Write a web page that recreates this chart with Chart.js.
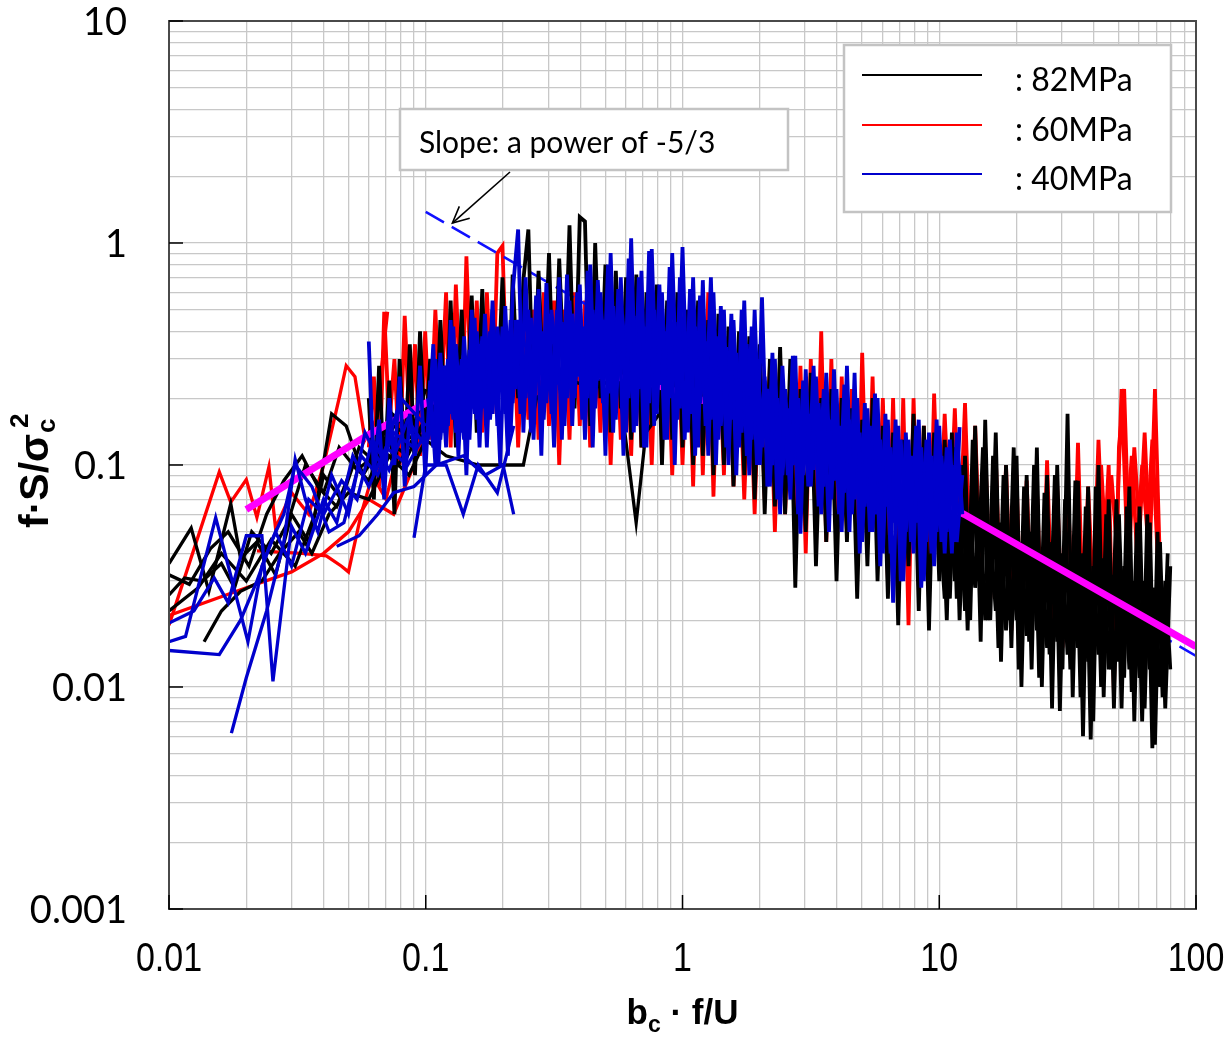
<!DOCTYPE html>
<html><head><meta charset="utf-8">
<script src="https://cdn.jsdelivr.net/npm/chart.js@4.4.1/dist/chart.umd.min.js"></script>
<style>html,body{margin:0;padding:0;background:#fff;}canvas{display:block;}</style>
</head><body>
<canvas id="c" width="1229" height="1037"></canvas>
<script>
// ---------- tick labels ----------
const xTickLabels = ['0.01', '0.1', '1', '10', '100'];
const yTickLabels = ['0.001', '0.01', '0.1', '1', '10'];
const gridMultipliers = [1, 2, 3, 4, 5, 6, 7, 8, 9];
const seriesNames = ['82MPa', '60MPa', '40MPa'];
const annotationText = 'Slope: a power of -5/3';

// ---------- dense spectra, grid A ----------
const freqA = [0.06,0.0628,0.0658,0.0689,0.0721,0.0755,0.0791,0.0828,0.0867,0.0908,0.095,0.0995,
 0.104,0.109,0.114,0.12,0.125,0.131,0.138,0.144,0.151,0.158,
 0.166,0.173,0.182,0.19,0.199,0.209,0.218,0.229,0.24,0.251,
 0.263,0.275,0.288,0.302,0.316,0.331,0.347,0.363,0.38,0.398,
 0.417,0.437,0.457,0.479,0.501,0.525,0.55,0.575,0.603,0.631,
 0.661,0.692,0.724,0.759,0.794,0.832,0.871,0.912,0.955,
 1.0,1.05,1.1,1.15,1.2,1.26,1.32,1.38,1.45,1.51,
 1.58,1.66,1.74,1.82,1.91,2.0,2.09,2.19,2.29,2.4,
 2.51,2.63,2.75,2.88,3.02,3.16,3.31,3.47,3.63,3.8,
 3.98,4.17,4.37,4.57,4.79,5.01,5.25,5.5,5.75,6.03,
 6.31,6.61,6.92,7.24,7.59,7.94,8.32,8.71,9.12,9.55,
 10.0,10.5,11.0,11.5,12.0,12.6,13.2,13.8,14.5,15.1,
 15.8,16.6,17.4,18.2,19.1,20.0,20.9,21.9,22.9,24.0,
 25.1,26.3,27.5,28.8,30.2,31.6,33.1,34.7,36.3,38.0,
 39.8,41.7,43.7,45.7,47.9,50.1,52.5,55.0,57.5,60.3,
 63.1,66.1,69.2,72.4,75.9,79.4];

const black82A = [0.2,0.07,0.28,0.09,0.24,0.06,0.3,0.1,0.35,0.09,0.4,0.12,
 0.3,0.11,0.45,0.13,0.55,0.12,0.5,0.16,0.58,0.14,
 0.62,0.15,0.5,0.18,0.7,0.13,0.72,0.2,0.68,1.15,
 0.16,0.75,0.2,0.9,0.17,0.85,0.22,1.2,0.18,1.31,
 1.25,0.15,1.0,0.2,0.8,0.14,0.75,0.18,0.7,0.13,
 0.72,0.12,0.6,0.15,0.65,0.1,0.55,0.13,0.6,
 0.12,0.5,0.1,0.55,0.11,0.45,0.09,0.48,0.1,0.42,
 0.08,0.4,0.09,0.38,0.07,0.35,0.06,0.3,0.065,0.34,
 0.06,0.3,0.028,0.22,0.05,0.26,0.035,0.2,0.045,0.22,
 0.03,0.2,0.045,0.18,0.025,0.16,0.035,0.2,0.03,0.15,
 0.025,0.14,0.019,0.13,0.035,0.17,0.022,0.15,0.018,0.14,
 0.03,0.13,0.025,0.12,0.02,0.11,0.02,0.15,0.016,0.16,
 0.02,0.14,0.013,0.1,0.015,0.11,0.01,0.09,0.012,0.12,
 0.01,0.09,0.008,0.1,0.012,0.17,0.009,0.085,0.006,0.08,
 0.007,0.1,0.009,0.07,0.008,0.06,0.011,0.08,0.007,0.065,
 0.008,0.055,0.0055,0.045,0.008,0.035];

const black82CStart = 111; // first value sits at freqA[111]
const black82C = [0.06,0.025,0.07,0.03,0.065,0.022,0.06,0.028,0.055,0.02,
 0.05,0.022,0.055,0.018,0.05,0.02,0.045,0.017,0.05,0.018,
 0.04,0.015,0.045,0.016,0.04,0.014,0.038,0.015,0.04,0.013,
 0.035,0.014,0.038,0.012,0.032,0.013,0.035,0.012,0.03,0.011,
 0.03,0.012,0.028,0.01,0.03,0.012];

const red60A = [0.12,0.25,0.08,0.49,0.15,0.3,0.1,0.47,0.14,0.35,0.11,0.4,
 0.13,0.5,0.16,0.6,0.12,0.65,0.15,0.87,0.18,0.55,
 0.14,0.6,0.17,0.9,0.97,0.15,0.55,0.12,0.45,0.16,
 0.5,0.13,0.6,0.15,0.55,0.1,0.5,0.13,0.6,0.15,
 0.55,0.12,0.5,0.14,0.6,0.1,0.45,0.13,0.55,0.11,
 0.5,0.12,0.45,0.1,0.5,0.13,0.42,0.09,0.48,
 0.1,0.45,0.08,0.5,0.09,0.6,0.072,0.4,0.09,0.38,
 0.08,0.35,0.07,0.3,0.06,0.32,0.07,0.28,0.05,0.3,
 0.06,0.25,0.05,0.28,0.04,0.3,0.05,0.4,0.045,0.3,
 0.04,0.25,0.05,0.22,0.035,0.32,0.045,0.25,0.04,0.2,
 0.03,0.2,0.025,0.2,0.019,0.2,0.03,0.15,0.025,0.21,
 0.04,0.17,0.05,0.18,0.045,0.19,0.035,0.15,0.03,0.12,
 0.025,0.11,0.02,0.1,0.018,0.09,0.015,0.085,0.02,0.08,
 0.018,0.105,0.02,0.08,0.015,0.09,0.018,0.126,0.02,0.08,
 0.025,0.13,0.035,0.1,0.0093,0.12,0.22,0.04,0.12,0.05,
 0.14,0.04,0.22,0.035];

const blue40A = [0.36,0.09,0.16,0.07,0.2,0.1,0.25,0.08,0.17,0.11,0.28,0.09,
 0.24,0.1,0.32,0.12,0.45,0.14,0.3,0.09,0.5,0.16,
 0.38,0.12,0.55,0.15,0.42,0.11,0.6,1.15,0.14,0.5,
 0.13,0.62,0.16,0.48,0.12,0.7,0.15,0.55,0.2,0.65,
 0.13,0.8,0.18,0.6,0.11,0.9,0.16,0.7,0.14,1.05,
 0.15,0.75,0.12,0.94,0.17,0.6,0.13,0.9,0.16,
 0.96,0.14,0.7,0.12,0.68,0.11,0.6,0.13,0.5,0.1,
 0.45,0.12,0.55,0.09,0.5,0.1,0.25,0.08,0.3,0.06,
 0.22,0.07,0.31,0.049,0.27,0.08,0.25,0.06,0.26,0.07,
 0.22,0.05,0.28,0.06,0.2,0.045,0.18,0.05,0.2,0.04,
 0.16,0.024,0.15,0.03,0.13,0.04,0.16,0.03,0.14,0.035,
 0.15,0.04,0.13,0.045,0.148];

const blue40CStart = 12; // first value sits at freqA[12]
const blue40C = [0.15,0.3,0.13,0.28,0.17,0.35,0.14,0.3,0.18,0.4,
 0.2,0.35,0.17,0.42,0.22,0.38,0.19,0.45,0.24,0.4,
 0.22,0.48,0.25,0.42,0.2,0.5,0.26,0.4,0.21,0.52,
 0.24,0.45,0.2,0.55,0.27,0.42,0.22,0.5,0.25,0.46,
 0.21,0.48,0.24,0.4,0.2,0.52,0.23,0.44,0.19,
 0.42,0.2,0.45,0.18,0.38,0.21,0.4,0.17,0.36,0.19,
 0.34,0.16,0.37,0.15,0.32,0.14,0.24,0.12,0.22,0.11,
 0.2,0.1,0.19,0.09,0.2,0.1,0.17,0.085,0.18,0.09,
 0.16,0.08,0.15,0.07,0.14,0.075,0.13,0.065,0.12,0.07,
 0.11,0.055,0.1,0.05,0.11,0.06,0.095,0.05,0.1,0.055,
 0.1,0.05,0.09,0.055,0.1];

// ---------- dense spectra, grid B ----------
const freqB = [0.102,0.107,0.112,0.117,0.122,0.128,0.134,0.141,0.148,0.155,
 0.162,0.17,0.178,0.186,0.195,0.204,0.214,0.224,0.234,0.245,
 0.257,0.269,0.282,0.295,0.309,0.324,0.339,0.355,0.372,0.389,
 0.407,0.427,0.447,0.468,0.49,0.513,0.537,0.562,0.589,0.617,
 0.646,0.676,0.708,0.741,0.776,0.813,0.851,0.891,0.933,0.977,
 1.02,1.07,1.12,1.17,1.23,1.29,1.35,1.41,1.48,1.55,
 1.62,1.7,1.78,1.86,1.95,2.04,2.14,2.24,2.34,2.45,
 2.57,2.69,2.82,2.95,3.09,3.24,3.39,3.55,3.72,3.89,
 4.07,4.27,4.47,4.68,4.9,5.13,5.37,5.62,5.89,6.17,
 6.46,6.76,7.08,7.41,7.76,8.13,8.51,8.91,9.33,9.77,
 10.2,10.7,11.2,11.7,12.3,12.9,13.5,14.1,14.8,15.5,
 16.2,17.0,17.8,18.6,19.5,20.4,21.4,22.4,23.4,24.5,
 25.7,26.9,28.2,29.5,30.9,32.4,33.9,35.5,37.2,38.9,
 40.7,42.7,44.7,46.8,49.0,51.3,53.7,56.2,58.9,61.7,
 64.6,67.6,70.8,74.1,77.6];

const blue40B = [0.13,0.35,0.1,0.28,0.15,0.42,0.11,0.38,0.13,0.46,
 0.12,0.48,0.16,0.36,0.1,0.52,0.14,0.45,0.17,0.7,
 0.14,0.58,0.11,0.66,0.17,0.5,0.13,0.72,0.15,0.6,
 0.16,0.75,0.12,0.68,0.19,0.8,0.14,0.62,0.11,0.85,
 0.14,0.7,0.12,0.92,0.15,0.65,0.13,0.78,0.1,0.7,
 0.13,0.62,0.11,0.58,0.15,0.7,0.1,0.52,0.12,0.48,
 0.09,0.5,0.11,0.42,0.1,0.57,0.08,0.32,0.07,0.28,
 0.09,0.31,0.06,0.24,0.08,0.28,0.065,0.22,0.05,0.27,
 0.06,0.23,0.05,0.26,0.04,0.19,0.05,0.21,0.035,0.17,
 0.04,0.16,0.03,0.14,0.045,0.15,0.028,0.13,0.04,0.16,
 0.045,0.12,0.04,0.14,0.06];

const blue40D = [0.2,0.12,0.26,0.14,0.3,0.16,0.28,0.13,0.33,0.17,
 0.35,0.18,0.4,0.2,0.36,0.17,0.45,0.22,0.38,0.2,
 0.46,0.24,0.4,0.19,0.5,0.23,0.44,0.2,0.48,0.25,
 0.42,0.2,0.5,0.24,0.45,0.21,0.52,0.26,0.4,0.2,
 0.47,0.22,0.42,0.19,0.5,0.23,0.4,0.2,0.44,0.18,
 0.4,0.17,0.42,0.19,0.36,0.16,0.38,0.15,0.34,0.16,
 0.32,0.14,0.35,0.13,0.3,0.12,0.22,0.1,0.2,0.09,
 0.18,0.1,0.2,0.09,0.17,0.095,0.19,0.08,0.16,0.085,
 0.15,0.075,0.16,0.07,0.14,0.065,0.15,0.06,0.13,0.065,
 0.12,0.055,0.13,0.05,0.11,0.055,0.12,0.045,0.11,0.05,
 0.11,0.05,0.1,0.045,0.09];

const black82BStart = 100; // first value sits at freqB[100]
const black82B = [0.09,0.02,0.14,0.025,0.1,0.018,0.13,0.03,0.12,0.02,
 0.11,0.015,0.09,0.02,0.12,0.012,0.08,0.016,0.1,0.011,
 0.075,0.014,0.09,0.0078,0.07,0.012,0.085,0.009,0.065,0.0058,
 0.08,0.01,0.06,0.012,0.07,0.008,0.065,0.0095,0.055,0.007,
 0.06,0.0053,0.05,0.009,0.04];

const red60BStart = 130; // first value sits at freqB[130]
const red60B = [0.05,0.1,0.04,0.09,0.045,0.22,0.05,0.11,0.04,0.1,0.05,0.13,0.04];

// ---------- sparse low-frequency spectra [x, y] ----------
const black82Low1 = [[0.01,0.036],[0.0122,0.052],[0.0143,0.027],[0.0174,0.067],[0.019,0.038],[0.022,0.045],[0.026,0.032],[0.03,0.06],[0.035,0.045],[0.04,0.09],[0.047,0.07],[0.055,0.12],[0.065,0.1],[0.075,0.15],[0.09,0.13],[0.11,0.2]];
const black82Low2 = [[0.01,0.032],[0.012,0.029],[0.0145,0.042],[0.017,0.05],[0.0205,0.035],[0.024,0.06],[0.028,0.085],[0.033,0.11],[0.038,0.08],[0.045,0.065],[0.052,0.1],[0.06,0.085],[0.07,0.13],[0.085,0.11],[0.1,0.16]];
const black82Low3 = [[0.01,0.022],[0.013,0.028],[0.016,0.04],[0.02,0.03],[0.025,0.046],[0.031,0.035],[0.037,0.06],[0.043,0.17],[0.049,0.15],[0.057,0.09],[0.066,0.12],[0.078,0.1],[0.092,0.14],[0.12,0.11],[0.16,0.1],[0.24,0.1],[0.27,0.2],[0.34,0.25],[0.45,0.22],[0.56,0.25],[0.66,0.055],[0.72,0.14],[0.9,0.2]];
const black82Low4 = [[0.0137,0.016],[0.016,0.022],[0.019,0.027],[0.023,0.03],[0.027,0.04],[0.032,0.05],[0.036,0.04],[0.042,0.06],[0.05,0.075],[0.06,0.07],[0.072,0.11],[0.086,0.09],[0.1,0.13]];
const black82Low5 = [[0.01,0.026],[0.0115,0.031],[0.0135,0.03],[0.016,0.036],[0.018,0.028],[0.021,0.05],[0.025,0.04],[0.029,0.055],[0.034,0.1],[0.04,0.075],[0.046,0.12],[0.054,0.095],[0.063,0.11],[0.074,0.17],[0.088,0.14],[0.1,0.22]];

const red60Low1 = [[0.01,0.019],[0.0157,0.093],[0.0174,0.068],[0.02,0.086],[0.022,0.058],[0.0245,0.098],[0.026,0.052],[0.03,0.075],[0.035,0.06],[0.04,0.1],[0.046,0.2],[0.049,0.28],[0.053,0.25],[0.058,0.13],[0.064,0.16],[0.071,0.49]];
const red60Low2 = [[0.01,0.021],[0.02,0.028],[0.03,0.033],[0.04,0.04],[0.05,0.05],[0.06,0.07],[0.075,0.06],[0.09,0.1]];
const red60Low3 = [[0.022,0.041],[0.033,0.04],[0.041,0.039],[0.047,0.035],[0.05,0.033],[0.056,0.06],[0.062,0.09],[0.07,0.07],[0.08,0.13]];

const blue40Low1 = [[0.0175,0.0062],[0.02,0.011],[0.024,0.022],[0.028,0.045],[0.031,0.106],[0.034,0.07],[0.038,0.05],[0.043,0.09],[0.05,0.06],[0.058,0.14],[0.067,0.1],[0.08,0.2],[0.1,0.15]];
const blue40Low2 = [[0.01,0.0146],[0.0157,0.014],[0.019,0.02],[0.022,0.03],[0.025,0.045],[0.028,0.06],[0.031,0.1],[0.036,0.08],[0.042,0.05],[0.048,0.055],[0.056,0.11],[0.065,0.09],[0.075,0.14],[0.09,0.12]];
const blue40Low3 = [[0.01,0.016],[0.0116,0.0169],[0.0152,0.058],[0.0203,0.016],[0.023,0.035],[0.026,0.05],[0.03,0.035],[0.035,0.07],[0.04,0.06],[0.047,0.085],[0.054,0.07],[0.062,0.13],[0.072,0.095],[0.085,0.16],[0.1,0.12]];
const blue40Low4 = [[0.01,0.0194],[0.0125,0.022],[0.015,0.031],[0.017,0.024],[0.02,0.048],[0.023,0.048],[0.0254,0.0106],[0.03,0.053],[0.034,0.04],[0.04,0.07],[0.045,0.055],[0.052,0.11],[0.06,0.08],[0.07,0.12],[0.085,0.1],[0.1,0.14]];
const blue40Low5 = [[0.045,0.043],[0.055,0.048],[0.065,0.06],[0.075,0.075],[0.09,0.08],[0.11,0.1],[0.14,0.11],[0.17,0.09],[0.2,0.1],[0.22,0.06]];
const blue40Low6 = [[0.09,0.047],[0.1,0.1],[0.12,0.1],[0.14,0.06],[0.16,0.1],[0.19,0.075],[0.22,0.15]];

// ---------- reference curves ----------
const fitCurveX = [0.02,0.03,0.058,0.1,0.2,0.4,0.7,1,2,4.2,7,12.5,100];
const fitCurveY = [0.063,0.084,0.134,0.19,0.24,0.26,0.24,0.21,0.16,0.114,0.084,0.06,0.0152];
const slopeLineX = [0.1, 100];
const slopeLineY = [1.38, 0.0138];

// ---------- helpers ----------
function zip(xs, ys, offset) {
  offset = offset || 0;
  const pts = [];
  for (let i = 0; i < ys.length; i++) {
    const xv = xs[i + offset];
    if (xv !== undefined && ys[i] !== undefined) pts.push({x: xv, y: ys[i]});
  }
  return pts;
}
const pairs = arr => arr.map(p => ({x: p[0], y: p[1]}));
function ds(data, color, width, order, extra) {
  return Object.assign({data, borderColor: color, backgroundColor: color, borderWidth: width,
    pointRadius: 0, showLine: true, fill: false, tension: 0, order, borderJoinStyle: 'miter'}, extra || {});
}
function gridTicks(min, max) {
  const out = [];
  for (let e = Math.round(Math.log10(min)); e <= Math.round(Math.log10(max)); e++) {
    for (const m of gridMultipliers) {
      const v = parseFloat((m * Math.pow(10, e)).toPrecision(6));
      if (v >= min - 1e-12 && v <= max + 1e-9) out.push(v);
    }
  }
  return out;
}

const BLACK = '#000000', RED = '#ff0000', BLUE = '#0000cc', MAGENTA = '#ff00ff', DASH = '#1010ff';
const LW = 3.8, LWS = 3.3;

const datasets = [
  ds(zip(freqA, blue40A), BLUE, LW, 0),
  ds(zip(freqB, blue40B), BLUE, LW, 0),
  ds(zip(freqA, blue40C, blue40CStart), BLUE, LW, 0),
  ds(zip(freqB, blue40D), BLUE, LW, 0),
  ds(pairs(blue40Low1), BLUE, LWS, 0), ds(pairs(blue40Low2), BLUE, LWS, 0), ds(pairs(blue40Low3), BLUE, LWS, 0),
  ds(pairs(blue40Low4), BLUE, LWS, 0), ds(pairs(blue40Low5), BLUE, LWS, 0), ds(pairs(blue40Low6), BLUE, LWS, 0),
  ds(zip(fitCurveX, fitCurveY), MAGENTA, 7, 1),
  ds(zip(freqA, black82A), BLACK, LW, 2),
  ds(zip(freqB, black82B, black82BStart), BLACK, LW, 2),
  ds(zip(freqA, black82C, black82CStart), BLACK, LW, 2),
  ds(pairs(black82Low1), BLACK, LWS, 2), ds(pairs(black82Low2), BLACK, LWS, 2), ds(pairs(black82Low3), BLACK, LWS, 2),
  ds(pairs(black82Low4), BLACK, LWS, 2), ds(pairs(black82Low5), BLACK, LWS, 2),
  ds(zip(slopeLineX, slopeLineY), DASH, 2.5, 3, {borderDash: [21, 9]}),
  ds(zip(freqA, red60A), RED, LW, 4),
  ds(zip(freqB, red60B, red60BStart), RED, LW, 4),
  ds(pairs(red60Low1), RED, LWS, 4), ds(pairs(red60Low2), RED, LWS, 4), ds(pairs(red60Low3), RED, LWS, 4)
];

const overlay = {
  id: 'overlay',
  afterDraw(chart) {
    const {ctx, chartArea: a, scales: {x, y}} = chart;
    ctx.save();
    // frame
    ctx.strokeStyle = '#4a4a4a'; ctx.lineWidth = 2;
    ctx.strokeRect(a.left, a.top, a.right - a.left, a.bottom - a.top);
    // major tick marks
    ctx.strokeStyle = '#000'; ctx.lineWidth = 1.5;
    yTickLabels.forEach(l => { const py = y.getPixelForValue(Number(l)); ctx.beginPath(); ctx.moveTo(a.left, py); ctx.lineTo(a.left + 14, py); ctx.stroke(); });
    xTickLabels.forEach(l => { const px = x.getPixelForValue(Number(l)); ctx.beginPath(); ctx.moveTo(px, a.bottom); ctx.lineTo(px, a.bottom - 14); ctx.stroke(); });

    // tick labels (positions from the chart's scales)
    ctx.fillStyle = '#000'; ctx.textBaseline = 'alphabetic';
    ctx.font = '38px Lato'; ctx.textAlign = 'right';
    yTickLabels.forEach(l => { const py = y.getPixelForValue(Number(l)); ctx.fillText(l, a.left - 42, py + 13.5); });
    ctx.font = '40px "Liberation Sans"'; ctx.textAlign = 'center';
    xTickLabels.forEach(l => {
      const px = x.getPixelForValue(Number(l));
      ctx.save(); ctx.translate(px, a.bottom + 62); ctx.scale(0.85, 1); ctx.fillText(l, 0, 0); ctx.restore();
    });
    ctx.textAlign = 'left';

    // annotation box
    ctx.fillStyle = '#fff'; ctx.fillRect(400, 109, 388, 61);
    ctx.strokeStyle = '#c3c3c3'; ctx.lineWidth = 2.5; ctx.strokeRect(400, 109, 388, 61);
    ctx.fillStyle = '#000'; ctx.font = '30px Lato';
    ctx.fillText(annotationText, 419, 153);
    // arrow
    const tx = x.getPixelForValue(0.127), ty = y.getPixelForValue(1.23);
    const sx = 510, sy = 172;
    ctx.strokeStyle = '#000'; ctx.lineWidth = 1.6;
    ctx.beginPath(); ctx.moveTo(sx, sy); ctx.lineTo(tx, ty); ctx.stroke();
    const ang = Math.atan2(ty - sy, tx - sx), hl = 18, hw = 0.45;
    ctx.beginPath();
    ctx.moveTo(tx - hl * Math.cos(ang - hw), ty - hl * Math.sin(ang - hw));
    ctx.lineTo(tx, ty);
    ctx.lineTo(tx - hl * Math.cos(ang + hw), ty - hl * Math.sin(ang + hw));
    ctx.stroke();

    // legend
    ctx.fillStyle = '#fff'; ctx.fillRect(844, 45, 327, 167);
    ctx.strokeStyle = '#c3c3c3'; ctx.lineWidth = 2.5; ctx.strokeRect(844, 45, 327, 167);
    const legColors = [BLACK, RED, BLUE];
    const legY = [75, 125, 174];
    seriesNames.forEach((n, i) => {
      ctx.strokeStyle = legColors[i]; ctx.lineWidth = 2.2;
      ctx.beginPath(); ctx.moveTo(862, legY[i]); ctx.lineTo(982, legY[i]); ctx.stroke();
      ctx.fillStyle = '#000'; ctx.font = '32px Lato';
      ctx.fillText(': ' + n, 1015, legY[i] + 16);
    });

    // y axis title (rotated)
    ctx.save();
    ctx.translate(48, 466); ctx.rotate(-Math.PI / 2);
    ctx.fillStyle = '#000';
    ctx.font = 'bold 41px "Liberation Sans"';
    const main = 'f·S/σ';
    const px0 = -62;
    ctx.fillText(main, px0, 0);
    const w = ctx.measureText(main).width;
    ctx.font = 'bold 26px "Liberation Sans"';
    ctx.fillText('c', px0 + w + 1, 7);
    ctx.fillText('2', px0 + w + 6, -20);
    ctx.restore();

    // x axis title
    const f1 = 'bold 35px "Liberation Sans"', f2 = 'bold 23px "Liberation Sans"';
    ctx.font = f1; const wb = ctx.measureText('b').width; const wr = ctx.measureText(' · f/U').width;
    ctx.font = f2; const wc = ctx.measureText('c').width;
    const total = wb + wc + wr;
    let cx = (a.left + a.right) / 2 - total / 2;
    const base = 1024;
    ctx.font = f1; ctx.fillText('b', cx, base); cx += wb;
    ctx.font = f2; ctx.fillText('c', cx, base + 8); cx += wc;
    ctx.font = f1; ctx.fillText(' · f/U', cx, base);
    ctx.restore();
  }
};

new Chart(document.getElementById('c'), {
  type: 'scatter',
  data: {datasets},
  options: {
    responsive: false, animation: false, events: [],
    layout: {padding: {top: 21, right: 33, left: 0, bottom: 0}},
    plugins: {legend: {display: false}, tooltip: {enabled: false}},
    scales: {
      x: {
        type: 'logarithmic', min: 0.01, max: 100,
        afterBuildTicks: s => { s.ticks = gridTicks(0.01, 100).map(v => ({value: v})); },
        afterFit: s => { s.height = 128; },
        grid: {color: '#c8c8c8', lineWidth: 1.3, drawTicks: false},
        border: {display: false},
        ticks: {display: false}
      },
      y: {
        type: 'logarithmic', min: 0.001, max: 10,
        afterBuildTicks: s => { s.ticks = gridTicks(0.001, 10).map(v => ({value: v})); },
        afterFit: s => { s.width = 169; },
        grid: {color: '#c8c8c8', lineWidth: 1.3, drawTicks: false},
        border: {display: false},
        ticks: {display: false}
      }
    }
  },
  plugins: [overlay]
});
</script>
</body></html>
